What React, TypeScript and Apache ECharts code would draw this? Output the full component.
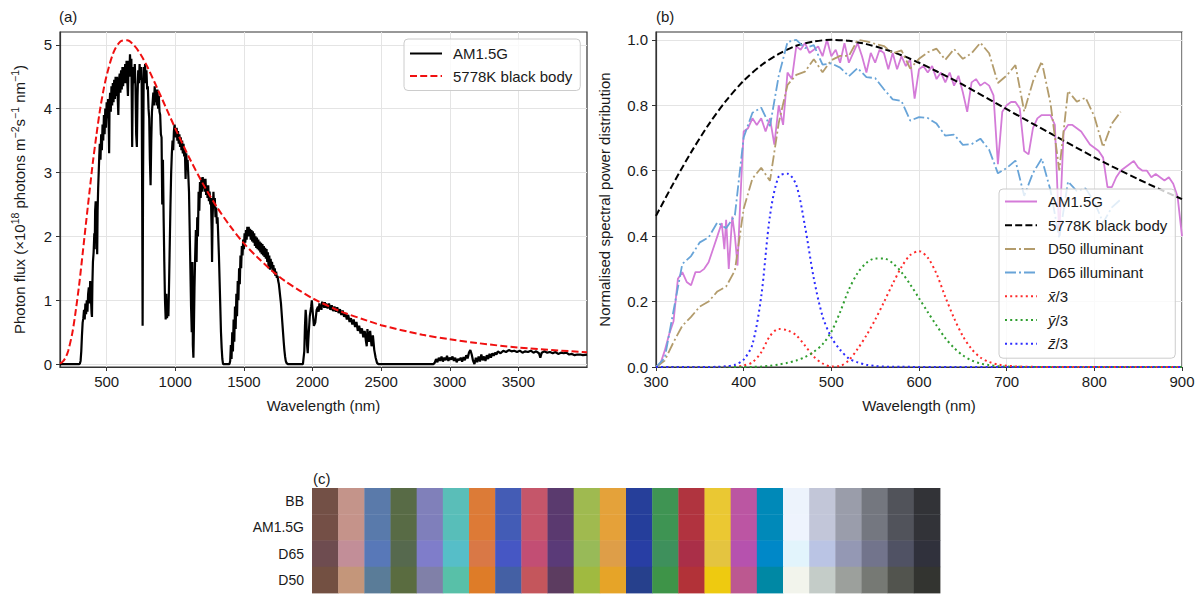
import React, { useEffect, useRef } from "react";
import * as echarts from "echarts";

// ---------- Panel (a) data: photon flux (x1e18 photons m^-2 s^-1 nm^-1) ----------
const am15gA: [number, number][] = [
  [160, 0], [280, 0], [300, 0], [305, 0.01], [310, 0.05], [315, 0.2], [320, 0.45], [325, 0.65], [330, 0.72], [335, 0.85],
  [340, 0.7], [345, 0.95], [350, 0.78], [355, 1.0], [360, 0.82], [365, 1.1], [370, 1.2], [375, 0.95], [380, 1.3], [385, 1.05],
  [390, 0.8], [393, 0.74], [396, 1.25], [400, 1.6], [405, 1.75], [410, 2.05], [413, 1.8], [416, 2.4], [420, 2.55], [424, 2.3],
  [428, 2.1], [431, 1.72], [434, 2.4], [438, 2.75], [442, 3.0], [446, 3.25], [450, 3.45], [455, 3.2], [460, 3.6], [465, 3.35],
  [470, 3.75], [475, 3.5], [480, 3.9], [485, 3.6], [490, 4.0], [495, 3.7], [500, 4.1], [505, 3.85], [510, 4.15], [515, 3.75],
  [518, 3.3], [521, 4.05], [525, 4.25], [530, 3.95], [535, 4.35], [540, 4.05], [545, 4.4], [550, 4.1], [555, 4.45], [560, 4.15],
  [565, 4.5], [570, 4.2], [575, 4.5], [580, 4.2], [585, 3.9], [590, 4.45], [595, 4.55], [600, 4.25], [605, 4.6], [610, 4.3],
  [615, 4.65], [620, 4.35], [625, 4.65], [630, 4.4], [635, 4.7], [640, 4.4], [645, 4.75], [650, 4.45], [655, 4.2], [660, 4.75],
  [665, 4.5], [670, 4.85], [675, 4.6], [680, 4.78], [686, 3.4], [690, 4.35], [695, 4.65], [700, 4.4], [705, 4.7], [710, 4.35],
  [715, 3.6], [720, 3.4], [725, 4.2], [730, 4.6], [735, 4.4], [740, 4.7], [745, 4.45], [750, 4.65], [755, 4.4], [759, 2.5],
  [762, 0.6], [765, 2.8], [770, 4.65], [775, 4.4], [780, 4.7], [785, 4.4], [790, 4.6], [795, 4.3], [800, 4.35], [805, 4.0],
  [810, 3.85], [815, 3.2], [820, 2.8], [825, 3.5], [830, 3.95], [835, 4.1], [840, 4.25], [845, 4.05], [850, 4.35], [855, 4.1],
  [860, 4.3], [865, 4.05], [870, 4.3], [875, 4.0], [880, 4.2], [885, 3.95], [890, 3.9], [895, 3.6], [900, 3.55], [905, 2.5],
  [910, 3.2], [915, 2.3], [920, 1.6], [925, 1.0], [930, 0.7], [935, 1.1], [940, 0.72], [945, 1.0], [950, 0.75], [955, 1.3],
  [960, 1.9], [965, 2.5], [970, 3.0], [975, 3.3], [980, 3.5], [985, 3.35], [990, 3.65], [995, 3.75], [1000, 3.75], [1005, 3.55],
  [1010, 3.7], [1015, 3.5], [1020, 3.65], [1025, 3.45], [1030, 3.6], [1035, 3.4], [1040, 3.55], [1045, 3.35], [1050, 3.5], [1055, 3.3],
  [1060, 3.45], [1065, 3.25], [1070, 3.35], [1075, 2.9], [1080, 3.3], [1085, 3.1], [1090, 3.2], [1095, 2.95], [1100, 2.7], [1105, 2.1],
  [1110, 1.5], [1115, 0.9], [1120, 0.5], [1125, 1.6], [1128, 0.3], [1132, 0.1], [1136, 0.6], [1140, 1.2], [1145, 1.7], [1150, 2.1],
  [1155, 1.6], [1160, 2.3], [1165, 2.0], [1170, 2.7], [1175, 2.4], [1180, 2.85], [1185, 2.6], [1190, 2.92], [1195, 2.7], [1200, 2.93],
  [1205, 2.75], [1210, 2.9], [1215, 2.7], [1220, 2.9], [1225, 2.65], [1230, 2.8], [1235, 2.6], [1240, 2.8], [1245, 2.55], [1250, 2.7],
  [1255, 2.5], [1260, 2.6], [1265, 2.1], [1268, 1.6], [1272, 2.3], [1278, 2.7], [1283, 2.45], [1288, 2.6], [1293, 2.3], [1298, 2.45],
  [1303, 2.2], [1308, 2.3], [1313, 2.0], [1318, 1.7], [1323, 1.3], [1328, 0.9], [1333, 0.5], [1338, 0.25], [1343, 0.08], [1348, 0],
  [1395, 0], [1400, 0.05], [1405, 0.3], [1410, 0.08], [1415, 0.5], [1420, 0.2], [1425, 0.7], [1430, 0.35], [1435, 0.9], [1440, 0.55],
  [1445, 1.1], [1450, 0.75], [1455, 1.3], [1460, 1.0], [1465, 1.5], [1470, 1.25], [1475, 1.7], [1480, 1.5], [1485, 1.85], [1490, 1.7],
  [1495, 1.95], [1500, 1.8], [1505, 2.05], [1510, 1.9], [1515, 2.1], [1520, 1.95], [1525, 2.15], [1530, 2.0], [1535, 2.15], [1540, 2.0],
  [1545, 2.12], [1550, 1.95], [1555, 2.1], [1560, 1.92], [1565, 2.08], [1570, 1.9], [1575, 2.05], [1580, 1.85], [1585, 2.0], [1590, 1.82],
  [1595, 1.98], [1600, 1.8], [1605, 1.95], [1610, 1.78], [1615, 1.92], [1620, 1.75], [1625, 1.9], [1630, 1.72], [1635, 1.88], [1640, 1.7],
  [1645, 1.85], [1650, 1.68], [1655, 1.82], [1660, 1.65], [1665, 1.8], [1670, 1.6], [1675, 1.75], [1680, 1.5], [1685, 1.7], [1690, 1.48],
  [1695, 1.65], [1700, 1.5], [1705, 1.6], [1710, 1.45], [1715, 1.55], [1720, 1.42], [1725, 1.5], [1730, 1.38], [1735, 1.45], [1740, 1.35],
  [1745, 1.38], [1750, 1.3], [1755, 1.25], [1760, 1.15], [1765, 1.05], [1770, 0.95], [1775, 0.8], [1780, 0.65], [1785, 0.5], [1790, 0.35],
  [1795, 0.22], [1800, 0.12], [1805, 0.05], [1810, 0.02], [1820, 0], [1930, 0], [1940, 0.2], [1945, 0.6], [1950, 0.85], [1955, 0.7],
  [1960, 0.3], [1965, 0.17], [1970, 0.4], [1980, 0.75], [1990, 0.9], [1995, 1.0], [2000, 0.85], [2010, 0.6], [2020, 0.65], [2030, 0.85],
  [2040, 0.9], [2045, 0.82], [2050, 0.95], [2055, 0.86], [2060, 0.92], [2065, 0.85], [2070, 0.98], [2075, 0.9], [2080, 0.97], [2085, 0.88],
  [2090, 0.97], [2095, 0.88], [2100, 0.95], [2110, 0.87], [2120, 0.95], [2130, 0.85], [2140, 0.92], [2150, 0.83], [2160, 0.9], [2170, 0.82],
  [2180, 0.89], [2190, 0.8], [2200, 0.86], [2210, 0.77], [2220, 0.84], [2230, 0.74], [2240, 0.8], [2250, 0.7], [2260, 0.77], [2270, 0.66],
  [2280, 0.72], [2290, 0.62], [2300, 0.7], [2310, 0.58], [2320, 0.66], [2330, 0.52], [2340, 0.6], [2350, 0.48], [2360, 0.56], [2370, 0.42],
  [2380, 0.52], [2390, 0.35], [2395, 0.28], [2400, 0.55], [2410, 0.35], [2420, 0.52], [2430, 0.28], [2440, 0.45], [2450, 0.22], [2460, 0.1],
  [2470, 0.02], [2480, 0], [2880, 0], [2890, 0.02], [2900, 0.08], [2910, 0.03], [2920, 0.1], [2930, 0.05], [2940, 0.12], [2950, 0.04],
  [2960, 0.1], [2970, 0.06], [2980, 0.13], [2990, 0.05], [3000, 0.1], [3010, 0.07], [3020, 0.12], [3030, 0.05], [3040, 0.1], [3050, 0.03],
  [3060, 0.08], [3070, 0.06], [3080, 0.1], [3090, 0.04], [3100, 0.11], [3110, 0.06], [3120, 0.14], [3130, 0.09], [3140, 0.18], [3150, 0.22],
  [3160, 0.15], [3170, 0.05], [3180, 0.0], [3190, 0.1], [3200, 0.03], [3210, 0.12], [3220, 0.04], [3230, 0.15], [3240, 0.06], [3250, 0.12],
  [3260, 0.05], [3270, 0.14], [3280, 0.08], [3290, 0.16], [3300, 0.1], [3310, 0.17], [3320, 0.13], [3330, 0.18], [3340, 0.15], [3350, 0.2],
  [3370, 0.17], [3390, 0.21], [3410, 0.19], [3430, 0.22], [3450, 0.2], [3470, 0.21], [3490, 0.19], [3510, 0.21], [3530, 0.18], [3550, 0.2],
  [3570, 0.19], [3590, 0.21], [3610, 0.18], [3630, 0.2], [3650, 0.17], [3660, 0.1], [3670, 0.18], [3690, 0.2], [3710, 0.18], [3730, 0.19],
  [3750, 0.17], [3770, 0.19], [3790, 0.16], [3810, 0.18], [3830, 0.17], [3850, 0.18], [3870, 0.15], [3890, 0.16], [3910, 0.14], [3930, 0.15],
  [3950, 0.15], [3970, 0.14], [4000, 0.15],
];

const blackBodyA: [number, number][] = [
  [160, 0.01], [180, 0.04], [200, 0.1], [220, 0.21], [250, 0.49], [275, 0.84], [300, 1.25], [325, 1.73], [350, 2.22],
  [375, 2.7], [400, 3.17], [425, 3.58], [450, 3.96], [475, 4.27], [500, 4.52], [550, 4.88], [600, 5.05], [650, 5.07],
  [700, 4.99], [750, 4.84], [800, 4.64], [900, 4.17], [1000, 3.69], [1100, 3.24], [1200, 2.83], [1300, 2.47], [1400, 2.16],
  [1500, 1.89], [1600, 1.67], [1700, 1.47], [1800, 1.3], [1900, 1.16], [2000, 1.03], [2200, 0.83], [2400, 0.68], [2500, 0.61],
  [2800, 0.46], [3000, 0.39], [3200, 0.33], [3500, 0.26], [4000, 0.185],
];

const xTicksA = [500, 1000, 1500, 2000, 2500, 3000, 3500];
const yTicksA = [0, 1, 2, 3, 4, 5];

// ---------- Panel (b) data: normalised spectral power distribution ----------
const am15gB: [number, number][] = [
  [300, 0], [305, 0.01], [310, 0.05], [315, 0.1], [320, 0.14], [325, 0.27], [330, 0.29], [335, 0.26], [340, 0.25], [345, 0.29],
  [350, 0.29], [355, 0.3], [360, 0.32], [365, 0.36], [370, 0.4], [375, 0.44], [378, 0.36], [380, 0.45], [383, 0.3], [387, 0.46],
  [390, 0.4], [393, 0.31], [396, 0.5], [400, 0.72], [405, 0.73], [410, 0.76], [415, 0.74], [420, 0.76], [425, 0.72], [430, 0.76],
  [435, 0.68], [440, 0.8], [445, 0.74], [450, 0.9], [455, 0.88], [460, 0.98], [465, 0.97], [470, 0.99], [475, 0.96], [480, 0.97],
  [485, 0.98], [490, 0.95], [495, 1.0], [500, 0.95], [505, 0.97], [510, 0.93], [515, 0.99], [520, 0.93], [525, 0.96], [530, 0.99],
  [535, 0.95], [540, 0.9], [545, 0.96], [550, 0.93], [555, 0.97], [560, 0.96], [565, 0.91], [570, 0.96], [575, 0.91], [580, 0.95],
  [585, 0.92], [590, 0.94], [595, 0.82], [600, 0.91], [605, 0.92], [610, 0.9], [615, 0.92], [620, 0.88], [625, 0.9], [630, 0.87],
  [635, 0.9], [640, 0.86], [645, 0.89], [650, 0.84], [655, 0.78], [660, 0.87], [665, 0.88], [670, 0.86], [675, 0.87], [680, 0.86],
  [685, 0.83], [690, 0.62], [695, 0.78], [700, 0.8], [705, 0.81], [710, 0.81], [715, 0.79], [720, 0.66], [725, 0.65], [730, 0.73],
  [735, 0.76], [740, 0.77], [745, 0.77], [750, 0.77], [755, 0.74], [760, 0.4], [765, 0.72], [770, 0.74], [775, 0.74], [780, 0.73],
  [785, 0.72], [790, 0.7], [795, 0.68], [800, 0.67], [805, 0.66], [810, 0.64], [815, 0.55], [820, 0.55], [825, 0.58], [830, 0.6],
  [835, 0.61], [840, 0.62], [845, 0.63], [850, 0.61], [855, 0.6], [860, 0.6], [865, 0.58], [870, 0.59], [875, 0.58], [880, 0.57],
  [885, 0.58], [890, 0.56], [895, 0.52], [900, 0.4],
];

const blackBodyB: [number, number][] = [
  [300, 0.462], [320, 0.562], [340, 0.656], [360, 0.741], [380, 0.814], [400, 0.875], [420, 0.922], [440, 0.957],
  [460, 0.982], [480, 0.995], [500, 1.0], [520, 0.997], [540, 0.987], [560, 0.972], [580, 0.953], [600, 0.93],
  [620, 0.904], [650, 0.863], [700, 0.788], [750, 0.714], [800, 0.641], [850, 0.574], [900, 0.513],
];

const d50B: [number, number][] = [
  [300, 0.0], [310, 0.02], [320, 0.076], [330, 0.126], [340, 0.153], [350, 0.185], [360, 0.2], [370, 0.231], [380, 0.246],
  [390, 0.295], [400, 0.484], [410, 0.576], [420, 0.609], [430, 0.569], [440, 0.746], [450, 0.862], [460, 0.893], [470, 0.903],
  [480, 0.941], [490, 0.901], [500, 0.938], [510, 0.951], [520, 0.951], [530, 1.0], [540, 0.995], [550, 0.988], [560, 0.981],
  [570, 0.959], [580, 0.968], [590, 0.912], [600, 0.942], [610, 0.962], [620, 0.973], [630, 0.939], [640, 0.972], [650, 0.942],
  [660, 0.959], [670, 0.991], [680, 0.959], [690, 0.868], [700, 0.891], [710, 0.923], [720, 0.781], [730, 0.873], [740, 0.934],
  [750, 0.806], [760, 0.601], [770, 0.844], [780, 0.811], [790, 0.823], [800, 0.766], [810, 0.672], [820, 0.744], [830, 0.78],
];

const d65B: [number, number][] = [
  [300, 0.0], [310, 0.028], [320, 0.172], [330, 0.315], [340, 0.339], [350, 0.381], [360, 0.396], [370, 0.442], [380, 0.424],
  [390, 0.464], [400, 0.702], [410, 0.777], [420, 0.793], [430, 0.736], [440, 0.89], [450, 0.993], [460, 1.0], [470, 0.975],
  [480, 0.984], [490, 0.924], [500, 0.928], [510, 0.915], [520, 0.889], [530, 0.914], [540, 0.886], [550, 0.883], [560, 0.849],
  [570, 0.818], [580, 0.813], [590, 0.753], [600, 0.764], [610, 0.761], [620, 0.744], [630, 0.707], [640, 0.71], [650, 0.679],
  [660, 0.681], [670, 0.698], [680, 0.664], [690, 0.592], [700, 0.608], [710, 0.631], [720, 0.523], [730, 0.593], [740, 0.637],
  [750, 0.54], [760, 0.394], [770, 0.567], [780, 0.538], [790, 0.546], [800, 0.505], [810, 0.441], [820, 0.488], [830, 0.512],
];

const xBar3: [number, number][] = [
  [300, 0], [360, 0], [370, 0.0002], [380, 0.0005], [390, 0.0014], [400, 0.0048], [410, 0.0145], [420, 0.0448], [430, 0.0946],
  [440, 0.1161], [450, 0.1121], [460, 0.0969], [470, 0.0651], [480, 0.0319], [490, 0.0107], [500, 0.0016], [510, 0.0031],
  [520, 0.0211], [530, 0.0552], [540, 0.0968], [550, 0.1445], [560, 0.1982], [570, 0.254], [580, 0.3054], [590, 0.3421],
  [600, 0.3541], [610, 0.3342], [620, 0.2848], [630, 0.2141], [640, 0.1493], [650, 0.0945], [660, 0.055], [670, 0.0291],
  [680, 0.0156], [690, 0.0076], [700, 0.0038], [710, 0.0019], [720, 0.001], [730, 0.0005], [740, 0.0002], [760, 0], [900, 0],
];

const yBar3: [number, number][] = [
  [300, 0], [380, 0], [400, 0.0001], [410, 0.0004], [420, 0.0013], [430, 0.0039], [440, 0.0077], [450, 0.0127], [460, 0.02],
  [470, 0.0303], [480, 0.0463], [490, 0.0693], [500, 0.1077], [510, 0.1677], [520, 0.2367], [530, 0.2873], [540, 0.318],
  [550, 0.3317], [560, 0.3317], [570, 0.3173], [580, 0.29], [590, 0.2523], [600, 0.2103], [610, 0.1677], [620, 0.127],
  [630, 0.0883], [640, 0.0583], [650, 0.0357], [660, 0.0203], [670, 0.0107], [680, 0.0057], [690, 0.0027], [700, 0.0014],
  [710, 0.0007], [720, 0.0003], [740, 0], [900, 0],
];

const zBar3: [number, number][] = [
  [300, 0], [360, 0], [370, 0.0007], [380, 0.0022], [390, 0.0067], [400, 0.0226], [410, 0.0691], [420, 0.2152], [430, 0.4619],
  [440, 0.5824], [450, 0.5907], [460, 0.5564], [470, 0.4292], [480, 0.271], [490, 0.1551], [500, 0.0907], [510, 0.0527],
  [520, 0.0261], [530, 0.0141], [540, 0.0068], [550, 0.0029], [560, 0.0013], [570, 0.0007], [580, 0.0006], [590, 0.0004],
  [600, 0.0003], [620, 0.0001], [640, 0], [900, 0],
];

const yTicksB = [0, 0.2, 0.4, 0.6, 0.8, 1.0];

// ---------- Panel (c) data: ColorChecker patches rendered under each spectrum ----------
const rowNames = ["BB", "AM1.5G", "D65", "D50"];
const patchNames = [
  "dark skin", "light skin", "blue sky", "foliage", "blue flower", "bluish green", "orange", "purplish blue",
  "moderate red", "purple", "yellow green", "orange yellow", "blue", "green", "red", "yellow", "magenta", "cyan",
  "white", "neutral 8", "neutral 6.5", "neutral 5", "neutral 3.5", "black",
];
const bbColors = [
  "#735046", "#c4948a", "#5a7aaa", "#586b46", "#8080ba", "#5abeb8", "#dc7b37", "#445cb5", "#c5566a", "#5a3a6e", "#9fba50", "#e4a23a",
  "#263f9a", "#3f9453", "#b0343f", "#eac833", "#bb56a2", "#0089b8", "#edf3fc", "#c2c6d8", "#9a9daa", "#74777f", "#51535a", "#323337",
];
const am15gColors = [
  "#744f46", "#c5938a", "#597aab", "#586b45", "#7f7fbb", "#58beb9", "#dd7a36", "#435cb6", "#c6556a", "#5a396f", "#a0ba4f", "#e5a139",
  "#253e9b", "#3e9453", "#b1333f", "#ebc832", "#bc55a3", "#0089b9", "#eef3fd", "#c2c6d9", "#9a9dab", "#747780", "#51535b", "#323338",
];
const d65Colors = [
  "#6e4c50", "#c28e98", "#5878b8", "#56694e", "#7f7dca", "#56bec8", "#d97846", "#4657c4", "#c24e74", "#5a3a78", "#98ba58", "#de9e48",
  "#283ea4", "#3e905c", "#aa2f48", "#e4c440", "#b652ae", "#0088c8", "#e2f4fc", "#bac4e4", "#9498b4", "#72748c", "#505264", "#30313c",
];
const d50Colors = [
  "#735042", "#c4967a", "#5a7c98", "#5a6c40", "#8080a8", "#58c0a8", "#de7c28", "#4460a4", "#c4565c", "#5c3c60", "#a0ba40", "#e6a428",
  "#26408c", "#3e9448", "#b23238", "#eeca10", "#bc5890", "#0088a4", "#f2f4ec", "#c4ccc8", "#9ca09c", "#767974", "#52544e", "#333430",
];

// ---------- styling ----------
const FONT = "'Liberation Sans', Arial, Helvetica, sans-serif";
const TXT = "#1a1a1a";
const FS = 15;
const AXIS = "#333333";
const GRID = "#e4e4e4";

const legendLabels: Record<string, string> = {
  am_a: "AM1.5G",
  bb_a: "5778K black body",
  am_b: "AM1.5G",
  bb_b: "5778K black body",
  d50: "D50 illuminant",
  d65: "D65 illuminant",
  xbar: "{i|x\u0304}/3",
  ybar: "{i|\u0233}/3",
  zbar: "{i|z\u0304}/3",
};

const dashed = [7, 3.2];
const dashDot = [11, 3, 2, 3];
const dotted = [2, 3.2];

function valueAxisCommon(extra: any) {
  return {
    type: "value",
    nameLocation: "middle",
    nameTextStyle: { fontSize: FS, color: TXT, fontFamily: FONT },
    axisLine: { show: true, onZero: false, lineStyle: { color: AXIS, width: 1.2 } },
    axisTick: { show: true, inside: false, length: 4, lineStyle: { color: AXIS, width: 1 } },
    axisLabel: { fontSize: FS, color: TXT, fontFamily: FONT, margin: 7, formatter: (v: number) => String(v) },
    splitLine: { show: true, lineStyle: { color: GRID, width: 1 } },
    ...extra,
  };
}

function lineSeries(name: string, data: [number, number][], axis: number, color: string, width: number, type: any, smooth: any = false) {
  return {
    name,
    type: "line",
    xAxisIndex: axis,
    yAxisIndex: axis,
    data,
    symbol: "none",
    showSymbol: false,
    smooth,
    silent: true,
    lineStyle: { color, width, type },
    itemStyle: { color },
  };
}

const cellColors: string[] = [];
const cellData: number[][] = [];
[bbColors, am15gColors, d65Colors, d50Colors].forEach((row, r) => {
  row.forEach((c, i) => {
    cellColors.push(c);
    cellData.push([i, r]);
  });
});

const legendCommon = {
  orient: "vertical",
  itemWidth: 32,
  itemHeight: 14,
  borderColor: "#cccccc",
  borderWidth: 1,
  borderRadius: 4,
  backgroundColor: "rgba(255,255,255,0.8)",
  selectedMode: false,
  itemStyle: { opacity: 0, borderWidth: 0 },
  formatter: (name: string) => legendLabels[name] ?? name,
  textStyle: {
    fontSize: FS,
    color: TXT,
    fontFamily: FONT,
    padding: [0, 0, 0, 6],
    rich: { i: { fontStyle: "italic", fontSize: FS, color: TXT, fontFamily: FONT } },
  },
};

const supName =
  "{n|Photon flux (\u00d710}{s|18}{n| photons m}{s|\u22122}{n|s}{s|\u22121}{n| nm}{s|\u22121}{n|)}";

const option: any = {
  animation: false,
  backgroundColor: "#ffffff",
  textStyle: { fontFamily: FONT },
  grid: [
    { left: 60, top: 32, width: 527, height: 335, show: true, borderColor: AXIS, borderWidth: 1.2, backgroundColor: "transparent", outerBoundsMode: "none", containLabel: false },
    { left: 656, top: 32, width: 526, height: 335, show: true, borderColor: AXIS, borderWidth: 1.2, backgroundColor: "transparent", outerBoundsMode: "none", containLabel: false },
    { left: 312, top: 488, width: 628, height: 105, show: false, outerBoundsMode: "none", containLabel: false },
  ],
  xAxis: [
    valueAxisCommon({
      gridIndex: 0, min: 160, max: 4000, name: "Wavelength (nm)", nameGap: 31,
      axisTick: { show: true, length: 4, customValues: xTicksA, lineStyle: { color: AXIS } },
      axisLabel: { fontSize: FS, color: TXT, fontFamily: FONT, margin: 7, customValues: xTicksA, formatter: (v: number) => String(v) },
    }),
    valueAxisCommon({ gridIndex: 1, min: 300, max: 900, interval: 100, name: "Wavelength (nm)", nameGap: 31 }),
    {
      type: "category", gridIndex: 2, data: patchNames,
      axisLine: { show: false }, axisTick: { show: false }, axisLabel: { show: false }, splitLine: { show: false },
    },
  ],
  yAxis: [
    valueAxisCommon({
      gridIndex: 0, min: -0.045, max: 5.2,
      name: supName, nameGap: 31,
      nameTextStyle: {
        fontSize: FS, color: TXT, fontFamily: FONT,
        rich: {
          n: { fontSize: FS, lineHeight: 20, color: TXT, fontFamily: FONT },
          s: { fontSize: 10.5, lineHeight: 10, verticalAlign: "top", color: TXT, fontFamily: FONT },
        },
      },
      axisTick: { show: true, length: 4, customValues: yTicksA, lineStyle: { color: AXIS } },
      axisLabel: { fontSize: FS, color: TXT, fontFamily: FONT, margin: 8, customValues: yTicksA },
    }),
    valueAxisCommon({
      gridIndex: 1, min: 0, max: 1.024, name: "Normalised spectral power distribution", nameGap: 44,
      axisTick: { show: true, length: 4, customValues: yTicksB, lineStyle: { color: AXIS } },
      axisLabel: { fontSize: FS, color: TXT, fontFamily: FONT, margin: 8, customValues: yTicksB, formatter: (v: number) => v.toFixed(1) },
    }),
    {
      type: "category", gridIndex: 2, data: rowNames, inverse: true,
      axisLine: { show: false }, axisTick: { show: false },
      axisLabel: { fontSize: FS - 1, color: TXT, fontFamily: FONT, margin: 8 },
      splitLine: { show: false },
    },
  ],
  legend: [
    { ...legendCommon, left: 404, top: 39, itemGap: 7.5, padding: [7, 8, 7, 5], data: ["am_a", "bb_a"] },
    { ...legendCommon, left: 999, top: 189, itemGap: 8.7, padding: [5, 8, 7, 5], data: ["am_b", "bb_b", "d50", "d65", "xbar", "ybar", "zbar"] },
  ],
  graphic: [
    { type: "text", left: 59, top: 9, style: { text: "(a)", fontSize: FS, fill: TXT, fontFamily: FONT } },
    { type: "text", left: 656, top: 9, style: { text: "(b)", fontSize: FS, fill: TXT, fontFamily: FONT } },
    { type: "text", left: 313, top: 471, style: { text: "(c)", fontSize: FS, fill: TXT, fontFamily: FONT } },
  ],
  series: [
    lineSeries("am_a", am15gA, 0, "#000000", 2.2, "solid"),
    lineSeries("bb_a", blackBodyA, 0, "#f01010", 2, dashed, 0.3),
    lineSeries("am_b", am15gB, 1, "#d47bd8", 1.8, "solid"),
    lineSeries("bb_b", blackBodyB, 1, "#000000", 2, dashed, 0.3),
    lineSeries("d50", d50B, 1, "#b39c6c", 1.8, dashDot),
    lineSeries("d65", d65B, 1, "#68a4d8", 1.8, dashDot),
    lineSeries("xbar", xBar3, 1, "#ff2b2b", 2, dotted, 0.3),
    lineSeries("ybar", yBar3, 1, "#2f9e2f", 2, dotted, 0.3),
    lineSeries("zbar", zBar3, 1, "#2b2bff", 2, dotted, 0.3),
    {
      name: "patches",
      type: "custom",
      xAxisIndex: 2,
      yAxisIndex: 2,
      data: cellData,
      encode: { x: 0, y: 1 },
      silent: true,
      renderItem: (params: any, api: any) => {
        const p = api.coord([api.value(0), api.value(1)]);
        const s = api.size([1, 1]);
        return {
          type: "rect",
          shape: { x: p[0] - s[0] / 2, y: p[1] - s[1] / 2, width: s[0] + 0.4, height: s[1] + 0.4 },
          style: { fill: cellColors[params.dataIndex] },
        };
      },
    },
  ],
};

export default function App() {
  const ref = useRef<HTMLDivElement>(null);
  useEffect(() => {
    if (!ref.current) return;
    const chart = echarts.init(ref.current, null, { renderer: "svg" });
    chart.setOption(option);
    return () => chart.dispose();
  }, []);
  return (
    <div
      ref={ref}
      style={{ position: "absolute", left: 0, top: 0, width: 1204, height: 594, background: "#ffffff" }}
    />
  );
}
